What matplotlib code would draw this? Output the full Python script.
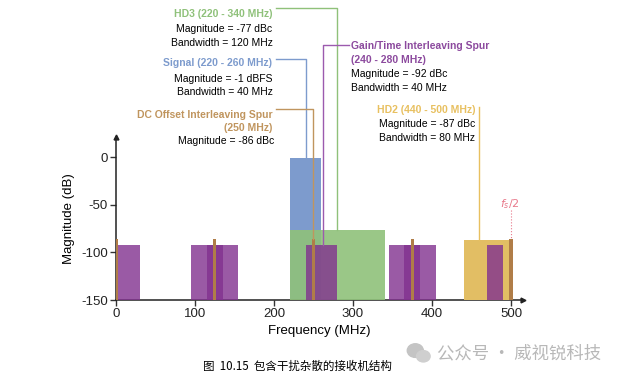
import matplotlib.pyplot as plt
from matplotlib.patches import Ellipse

plt.rcParams['font.family'] = ['Liberation Sans', 'DejaVu Sans']
plt.rcParams['axes.unicode_minus'] = False

# band edges (MHz) and magnitudes (dB)
signal_band = [220, 260]
signal_mag = -1
hd3_band = [220, 340]
hd3_mag = -77
hd2_band = [440, 500]
hd2_mag = -87
gain_spur_start = [0, 95, 115, 240, 345, 365, 470]
gain_spur_width = [30, 40, 40, 40, 40, 40, 20]
gain_spur_mag = -92
dc_spur_freq = [0, 125, 250, 375, 500]
dc_spur_mag = -86

floor = -150
blue = '#7d9bcd'
green = '#8fc17a'
yellow = '#e2be64'
purple = '#81318f'
brown = '#b07d48'
fs_red = '#e8788a'

fig = plt.figure(figsize=(6.18, 3.79), dpi=100)
ax = fig.add_axes([0.1877, 0.2084, 0.846 - 0.1877, 0.6385 - 0.2084])

ax.bar(signal_band[0], signal_mag - floor, width=signal_band[1] - signal_band[0],
       bottom=floor, align='edge', color=blue, zorder=2)
ax.bar(hd3_band[0], hd3_mag - floor, width=hd3_band[1] - hd3_band[0],
       bottom=floor, align='edge', color=green, alpha=0.9, zorder=3)
ax.bar(hd2_band[0], hd2_mag - floor, width=hd2_band[1] - hd2_band[0],
       bottom=floor, align='edge', color=yellow, zorder=3)
ax.bar(gain_spur_start, [gain_spur_mag - floor] * len(gain_spur_start),
       width=gain_spur_width, bottom=floor, align='edge', color=purple,
       alpha=0.8, zorder=4)
ax.bar(dc_spur_freq, [dc_spur_mag - floor] * len(dc_spur_freq), width=4,
       bottom=floor, color=brown, zorder=5)

ax.set_xlim(0, 515)
ax.set_ylim(floor, 21)
ax.set_xticks([0, 100, 200, 300, 400, 500])
ax.set_yticks([0, -50, -100, -150])
ax.tick_params(labelsize=9.5, length=4, width=1, color='#333333',
               labelcolor='#222222', pad=2)
for s in ['top', 'right']:
    ax.spines[s].set_visible(False)
for s in ['left', 'bottom']:
    ax.spines[s].set_color('#222222')
    ax.spines[s].set_linewidth(1.1)
ax.plot(1, 0, '>', color='#222222', ms=3.5, transform=ax.transAxes, clip_on=False)
ax.plot(0, 1, '^', color='#222222', ms=3.5, transform=ax.transAxes, clip_on=False)
ax.set_xlabel('Frequency (MHz)', fontsize=9.5, labelpad=3)
ax.set_ylabel('Magnitude (dB)', fontsize=9.5, labelpad=4)

# annotations (data coordinates, drawn above the axes)
fs_t = 7.5
lw = 1.0


def label(x, ys, lines, colors, ha):
    for y, t, c in zip(ys, lines, colors):
        ax.text(x, y, t, color=c, fontsize=fs_t,
                fontweight='normal' if c == 'black' else 'bold',
                ha=ha, va='center', clip_on=False)


label(198, [150, 134.8, 120.1],
      ['HD3 (220 - 340 MHz)', 'Magnitude = -77 dBc', 'Bandwidth = 120 MHz'],
      [green, 'black', 'black'], 'right')
label(198, [98.9, 82.1, 68.5],
      ['Signal (220 - 260 MHz)', 'Magnitude = -1 dBFS', 'Bandwidth = 40 MHz'],
      [blue, 'black', 'black'], 'right')
label(198, [44.1, 30.1],
      ['DC Offset Interleaving Spur', '(250 MHz)'],
      ['#c0955e', '#c0955e'], 'right')
label(200.5, [16.8], ['Magnitude = -86 dBc'], ['black'], 'right')
label(298, [116.4, 101.8, 87.1, 72.1],
      ['Gain/Time Interleaving Spur', '(240 - 280 MHz)', 'Magnitude = -92 dBc',
       'Bandwidth = 40 MHz'], ['#8c4a9e', '#8c4a9e', 'black', 'black'], 'left')
label(455, [49.3, 34.3, 19.6],
      ['HD2 (440 - 500 MHz)', 'Magnitude = -87 dBc', 'Bandwidth = 80 MHz'],
      ['#e8c060', 'black', 'black'], 'right')

ax.plot([202.5, 279.4, 279.4], [156, 156, hd3_mag], color=green, lw=lw,
        clip_on=False, zorder=6)
ax.plot([202.5, 240, 240], [102.8, 102.8, signal_mag], color=blue, lw=lw,
        clip_on=False, zorder=6)
ax.plot([202.5, 249.5, 249.5], [50.4, 50.4, dc_spur_mag], color='#c0955e',
        lw=lw, clip_on=False, zorder=6)
ax.plot([295, 261.6, 261.6], [117.5, 117.5, gain_spur_mag], color='#9c5aae',
        lw=lw, clip_on=False, zorder=6)
ax.plot([459.5, 459.5], [52.8, hd2_mag], color='#e8c060', lw=lw,
        clip_on=False, zorder=6)

ax.plot([500, 500], [-56, dc_spur_mag], color=fs_red, lw=0.8, ls=':', zorder=6)
ax.text(498.5, -49, r'$f_s/2$', color=fs_red, fontsize=8, ha='center',
        va='center')

fig.text(0.328, 0.033, '图  10.15  包含干扰杂散的接收机结构', fontsize=8.3,
         family=['Noto Sans CJK SC', 'DejaVu Sans'], va='center')
fig.text(0.707, 0.068, '公众号 · 威视锐科技', fontsize=12.5, color='#b8b8b8',
         family=['Noto Sans CJK SC', 'DejaVu Sans'], va='center')
# small chat-bubble icon before the watermark
fig.add_artist(Ellipse((0.672, 0.075), 0.026, 0.036, color='#c4c4c4',
                       transform=fig.transFigure))
fig.add_artist(Ellipse((0.685, 0.060), 0.022, 0.030, color='#cfcfcf',
                       transform=fig.transFigure))

fig.savefig('out.png', dpi=100)
